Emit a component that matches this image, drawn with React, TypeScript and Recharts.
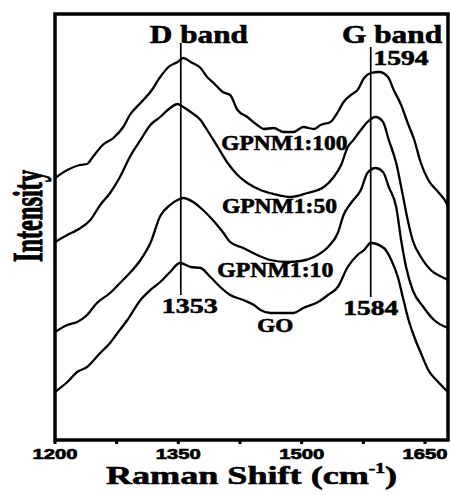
import React from 'react';
import { LineChart, Line, XAxis, YAxis, ReferenceLine, ReferenceDot, ReferenceArea } from 'recharts';

const SERIF = '"Liberation Serif","Times New Roman",Times,serif';
const SANS = '"Liberation Sans",Arial,Helvetica,sans-serif';

// ---- data (Raman shift in cm-1, intensity in arbitrary units) ----
const goShift = [1200,1215,1227,1239,1255,1267,1276,1288,1304,1316,1328,1340,1352,1365,1377,1389,1401,1413,1429,1442,1450,1462,1478,1490,1502,1520,1532,1544,1556,1568,1576,1584,1600,1609,1617,1623,1629,1637,1645,1654,1666,1678];
const goIntensity = [48,58,68,73,87,97,107,120,140,150,158,168,177,173,172,163,153,145,140,135,130,127,127,127,132,138,145,153,173,185,190,197,192,180,163,143,123,103,87,70,58,48];

const g10Shift = [1200,1215,1227,1239,1251,1267,1279,1291,1304,1316,1328,1340,1349,1356,1368,1380,1393,1405,1413,1429,1446,1462,1483,1499,1515,1532,1544,1551,1560,1572,1580,1590,1599,1606,1615,1621,1627,1635,1648,1661,1678];
const g10Intensity = [108,115,118,125,137,147,157,167,180,197,224,235,240,242,238,230,219,207,198,192,185,180,178,179,183,193,207,225,237,250,267,272,268,253,233,200,173,150,133,120,112];

const g50Shift = [1200,1215,1227,1243,1255,1267,1279,1291,1304,1316,1328,1340,1349,1356,1365,1377,1385,1398,1410,1422,1434,1450,1466,1487,1507,1527,1539,1548,1556,1563,1572,1580,1590,1599,1606,1615,1623,1629,1635,1645,1657,1673,1678];
const g50Intensity = [198,205,210,220,235,247,263,283,300,315,323,332,336,333,328,320,310,293,277,265,257,250,246,243,247,253,263,275,293,300,310,318,323,318,300,277,245,220,200,183,170,162,160];

const g100Shift = [1200,1215,1230,1239,1246,1258,1271,1283,1291,1304,1316,1328,1338,1349,1356,1365,1377,1385,1393,1404,1413,1422,1434,1446,1454,1466,1478,1490,1502,1515,1523,1535,1544,1551,1560,1568,1576,1584,1594,1605,1612,1621,1629,1637,1645,1654,1666,1676,1678];
const g100Intensity = [262,270,275,276,283,295,302,313,325,337,348,363,373,378,382,378,372,363,357,348,345,330,323,315,311,312,308,308,313,311,315,318,328,338,345,350,362,367,368,363,350,335,317,300,277,260,248,237,233];

const xTicks = [1200, 1275, 1350, 1425, 1500, 1575, 1650];
const xTickLabels = ['1200', '', '1350', '', '1500', '', '1650'];

const dBand = 1353;
const gBand = 1584;

const xDomain = [1200, 1678];
const yDomain = [0, 426];

const toPoints = (xs: number[], ys: number[]) => xs.map((x, i) => ({ shift: x, intensity: ys[i] }));

const series = [
  { name: 'GO', data: toPoints(goShift, goIntensity) },
  { name: 'GPNM1:10', data: toPoints(g10Shift, g10Intensity) },
  { name: 'GPNM1:50', data: toPoints(g50Shift, g50Intensity) },
  { name: 'GPNM1:100', data: toPoints(g100Shift, g100Intensity) },
];

// annotation texts placed in data coordinates
const annotations = [
  { text: 'D band', shift: 1375, intensity: 397, size: 25, len: 98 },
  { text: 'G band', shift: 1610, intensity: 397, size: 25, len: 100 },
  { text: '1594', shift: 1621, intensity: 375, size: 21, len: 55 },
  { text: 'GPNM1:100', shift: 1479, intensity: 290, size: 20, len: 126 },
  { text: 'GPNM1:50', shift: 1473, intensity: 227, size: 20, len: 115 },
  { text: 'GPNM1:10', shift: 1468, intensity: 163, size: 20, len: 116 },
  { text: '1353', shift: 1364, intensity: 127, size: 22, len: 56 },
  { text: '1584', shift: 1584, intensity: 125, size: 22, len: 55 },
  { text: 'GO', shift: 1468, intensity: 108, size: 18, len: 36 },
];

const XTick = (props: any) => {
  const { x, y, payload } = props;
  const idx = xTicks.indexOf(payload.value);
  const label = idx >= 0 ? xTickLabels[idx] : '';
  if (!label) return <g />;
  return (
    <text x={x} y={y + 13} textAnchor="middle" fontFamily={SANS} fontWeight="bold" fontSize={15.5}
      textLength={45} lengthAdjust="spacingAndGlyphs" fill="#000" stroke="#000" strokeWidth={0.7}>{label}</text>
  );
};

export default function App() {
  return (
    <div style={{ position: 'absolute', left: 0, top: 0, background: '#fff' }}>
      <LineChart width={451} height={495} margin={{ top: 14, right: 3, bottom: 25, left: 55 }}>
        <XAxis dataKey="shift" type="number" domain={xDomain} ticks={xTicks} allowDataOverflow
          height={30} axisLine={false} tickSize={4} tickMargin={2}
          tickLine={{ stroke: '#000', strokeWidth: 3 }} tick={<XTick />} />
        <YAxis type="number" domain={yDomain} hide allowDataOverflow />
        <ReferenceArea x1={xDomain[0]} x2={xDomain[1]} y1={yDomain[0]} y2={yDomain[1]}
          fill="none" stroke="#000" strokeWidth={3.5} ifOverflow="visible" />
        <ReferenceLine segment={[{ x: dBand, y: 145 }, { x: dBand, y: 397 }]} stroke="#000" strokeWidth={1.7} />
        <ReferenceLine segment={[{ x: gBand, y: 143 }, { x: gBand, y: 393 }]} stroke="#000" strokeWidth={1.7} />
        {series.map((s) => (
          <Line key={s.name} data={s.data} dataKey="intensity" name={s.name} type="monotone"
            stroke="#000" strokeWidth={2.3} dot={false} activeDot={false} isAnimationActive={false} />
        ))}
        {annotations.map((a) => (
          <ReferenceDot key={a.text} x={a.shift} y={a.intensity} r={0} ifOverflow="visible"
            shape={(p: any) => (
              <text x={p.cx} y={p.cy} textAnchor="middle" fontFamily={SERIF} fontWeight="bold"
                fontSize={a.size} textLength={a.len} lengthAdjust="spacingAndGlyphs" fill="#000"
                stroke="#000" strokeWidth={0.6}>{a.text}</text>
            )} />
        ))}
        <ReferenceDot x={1184} y={224} r={0} ifOverflow="visible"
          shape={(p: any) => (
            <text transform={`translate(${p.cx},${p.cy}) scale(1.72,1) rotate(-90)`} textAnchor="middle"
              fontFamily={SERIF} fontWeight="bold" fontSize={24.4} fill="#000" stroke="#000" strokeWidth={0.6}>Intensity</text>
          )} />
        <ReferenceDot x={1439} y={-44} r={0} ifOverflow="visible"
          shape={(p: any) => (
            <text transform={`translate(${p.cx},${p.cy}) scale(1.39,1)`} textAnchor="middle"
              fontFamily={SERIF} fontWeight="bold" fontSize={26} fill="#000" stroke="#000" strokeWidth={0.6}>
              <tspan>Raman Shift (cm</tspan>
              <tspan dy={-11} fontSize={14}>-1</tspan>
              <tspan dy={11}>)</tspan>
            </text>
          )} />
      </LineChart>
    </div>
  );
}
